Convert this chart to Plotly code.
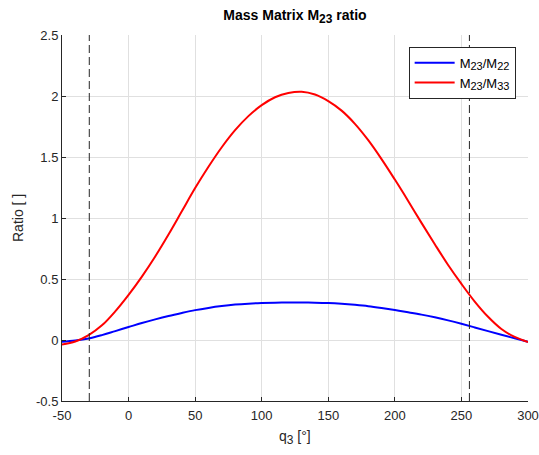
import plotly.graph_objects as go

q3 = list(range(-50, 301, 10))
m23_m22 = [-0.015, -0.005, 0.012, 0.04, 0.073, 0.106, 0.139, 0.169, 0.197, 0.222,
           0.245, 0.263, 0.278, 0.29, 0.298, 0.303, 0.306, 0.307, 0.307, 0.306,
           0.303, 0.297, 0.288, 0.277, 0.262, 0.245, 0.227, 0.208, 0.186, 0.161,
           0.133, 0.103, 0.073, 0.043, 0.014, -0.015]
m23_m33 = [-0.037, -0.012, 0.04, 0.12, 0.235, 0.37, 0.52, 0.685, 0.865, 1.055,
           1.245, 1.42, 1.58, 1.72, 1.835, 1.925, 1.99, 2.025, 2.035, 2.012,
           1.958, 1.88, 1.772, 1.638, 1.483, 1.315, 1.14, 0.96, 0.785, 0.615,
           0.46, 0.315, 0.19, 0.09, 0.025, -0.016]
limits = [-29.5, 256]

x_ticks = [-50, 0, 50, 100, 150, 200, 250, 300]
x_ticktext = ["-50", "0", "50", "100", "150", "200", "250", "300"]
y_ticks = [-0.5, 0, 0.5, 1, 1.5, 2, 2.5]
y_ticktext = ["-0.5", "0", "0.5", "1", "1.5", "2", "2.5"]

FONT = "Liberation Sans, Arial, Helvetica, sans-serif"
AX = "#262626"
W, H = 539, 455
L, R, T, B = 62, 11, 35, 54


def sub(s, px):
    return f'<sub><span style="font-size:{px}px">{s}</span></sub>'


fig = go.Figure()
fig.add_trace(go.Scatter(x=q3, y=m23_m22, mode="lines", line=dict(color="#0000ff", width=2, shape="spline", smoothing=1.0),
                         name="M" + sub("23", 11) + "/M" + sub("22", 11)))
fig.add_trace(go.Scatter(x=q3, y=m23_m33, mode="lines", line=dict(color="#ff0000", width=2, shape="spline", smoothing=1.0),
                         name="M" + sub("23", 11) + "/M" + sub("33", 11)))
for v in limits:
    fig.add_vline(x=v, line=dict(color="#262626", width=1, dash="8px,4px"))

fig.update_layout(
    width=W, height=H,
    margin=dict(l=L, r=R, t=T, b=B, autoexpand=False),
    paper_bgcolor="white", plot_bgcolor="white",
    font=dict(family=FONT, size=13, color=AX),
    title=dict(text="<b>Mass Matrix M" + sub("23", 12) + " ratio</b>", x=(L + W - R) / 2 / W, xanchor="center",
               y=1 - 15 / H, yanchor="middle", font=dict(size=14, color="black")),
    legend=dict(x=0.9735, y=0.968, xanchor="right", yanchor="top", bgcolor="white",
                bordercolor=AX, borderwidth=1, font=dict(size=13, color="black"),
                tracegroupgap=0, itemwidth=40),
    showlegend=True,
    annotations=[
        dict(text="q" + sub("3", 12) + " [°]", xref="paper", yref="paper", x=0.5, y=-(437 - (H - B)) / (H - T - B),
             xanchor="center", yanchor="middle", showarrow=False, font=dict(size=14, color=AX)),
        dict(text="Ratio [ ]", xref="paper", yref="paper", x=-(L - 18) / (W - L - R), y=0.5,
             xanchor="center", yanchor="middle", textangle=-90, showarrow=False, font=dict(size=14, color=AX)),
    ],
)
fig.update_xaxes(range=[-50, 300], tickvals=x_ticks, ticktext=x_ticktext, showgrid=True, automargin=False,
                 gridcolor="#e0e0e0", gridwidth=1, zeroline=False, showline=True, linecolor=AX,
                 linewidth=1, ticks="inside", ticklen=4, tickcolor=AX, mirror=False,
                 ticklabelstandoff=2, tickfont=dict(size=13, color=AX))
fig.update_yaxes(range=[-0.5, 2.5], tickvals=y_ticks, ticktext=y_ticktext, showgrid=True, automargin=False,
                 gridcolor="#e0e0e0", gridwidth=1, zeroline=False, showline=True, linecolor=AX,
                 linewidth=1, ticks="inside", ticklen=4, tickcolor=AX, mirror=False,
                 tickfont=dict(size=13, color=AX))

fig.write_html("out.html", config={"displayModeBar": False},
               post_script="document.body.style.margin='0px';document.body.style.overflow='hidden';")
